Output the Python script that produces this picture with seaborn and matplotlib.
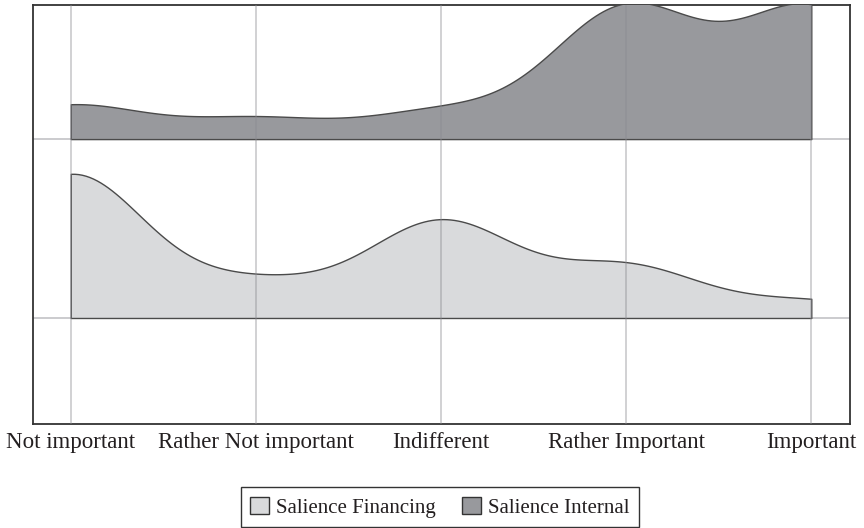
import numpy as np
import pandas as pd
import seaborn as sns
import matplotlib.pyplot as plt
from matplotlib.patches import Patch

# answer levels (1..5) and their labels
levels = [1, 2, 3, 4, 5]
level_labels = ['Not important', 'Rather Not important', 'Indifferent',
                'Rather Important', 'Important']

# share of answers per level
financing_counts = [42, 10, 28, 15, 5]
internal_counts = [10, 6, 8, 38, 38]

df = pd.concat([
    pd.DataFrame({'series': 'Salience Financing',
                  'level': np.repeat(levels, financing_counts)}),
    pd.DataFrame({'series': 'Salience Internal',
                  'level': np.repeat(levels, internal_counts)}),
])

sns.set_style('white')
plt.rcParams['font.family'] = ['Liberation Serif', 'DejaVu Serif']
plt.rcParams['text.color'] = '#231f20'
plt.rcParams['xtick.color'] = '#231f20'

fig = plt.figure(figsize=(8.64, 5.28), dpi=100)
ax = fig.add_axes([0.038, 0.197, 0.946, 0.7935])

# ridge styling: where each baseline sits (fraction of axes height), fill colour
ridges = {
    'Salience Financing': dict(base=0.253, face='#d9dadc'),
    'Salience Internal': dict(base=0.680, face='#98999d'),
}
span = 1.23          # density units covered by the full axes height
bandwidth = 0.4      # kernel width in answer-level units
edge = '#4a4a4a'

ax.set_xlim(0.795, 5.21)
ax.set_ylim(0, 1)
ax.set_yticks([])
ax.set_xticks(levels)
ax.set_xticklabels(level_labels, fontsize=16.5)
ax.tick_params(axis='x', length=0, pad=6)
for s in ax.spines.values():
    s.set_color('#333333')
    s.set_linewidth(1.3)
for r in ridges.values():
    ax.axhline(r['base'], color='#bdbdc1', lw=1.1, zorder=0)

top = None
for name, r in ridges.items():
    a = ax.twinx()
    a.patch.set_visible(False)
    sub = df[df['series'] == name]
    bw = bandwidth / np.std(sub['level'], ddof=1)
    sns.kdeplot(data=sub, x='level', bw_method=bw, cut=0, fill=True,
                facecolor=r['face'], edgecolor=edge, linewidth=1.0,
                alpha=1, ax=a)
    a.set_ylim(-r['base'] * span, (1 - r['base']) * span)
    a.set_yticks([])
    a.set_ylabel('')
    a.set_xlabel('')
    for s in a.spines.values():
        s.set_visible(False)
    top = a

# vertical grid at each level, drawn over the ridges
for lv in levels:
    top.axvline(lv, color='#8a8a90', alpha=0.5, lw=1.1, zorder=5)
ax.set_xlabel('')

handles = [Patch(facecolor=r['face'], edgecolor='#333333', linewidth=1.0, label=n)
           for n, r in ridges.items()]
leg = fig.legend(handles=handles, loc='lower center', bbox_to_anchor=(0.509, 0.0),
                 ncol=2, fontsize=15, frameon=True, fancybox=False, framealpha=1,
                 handlelength=0.9, handleheight=0.9, handletextpad=0.35,
                 columnspacing=1.25, borderpad=0.45, borderaxespad=0.05)
leg.get_frame().set_edgecolor('#333333')
leg.get_frame().set_linewidth(1.0)

plt.savefig('out.png', dpi=100)
